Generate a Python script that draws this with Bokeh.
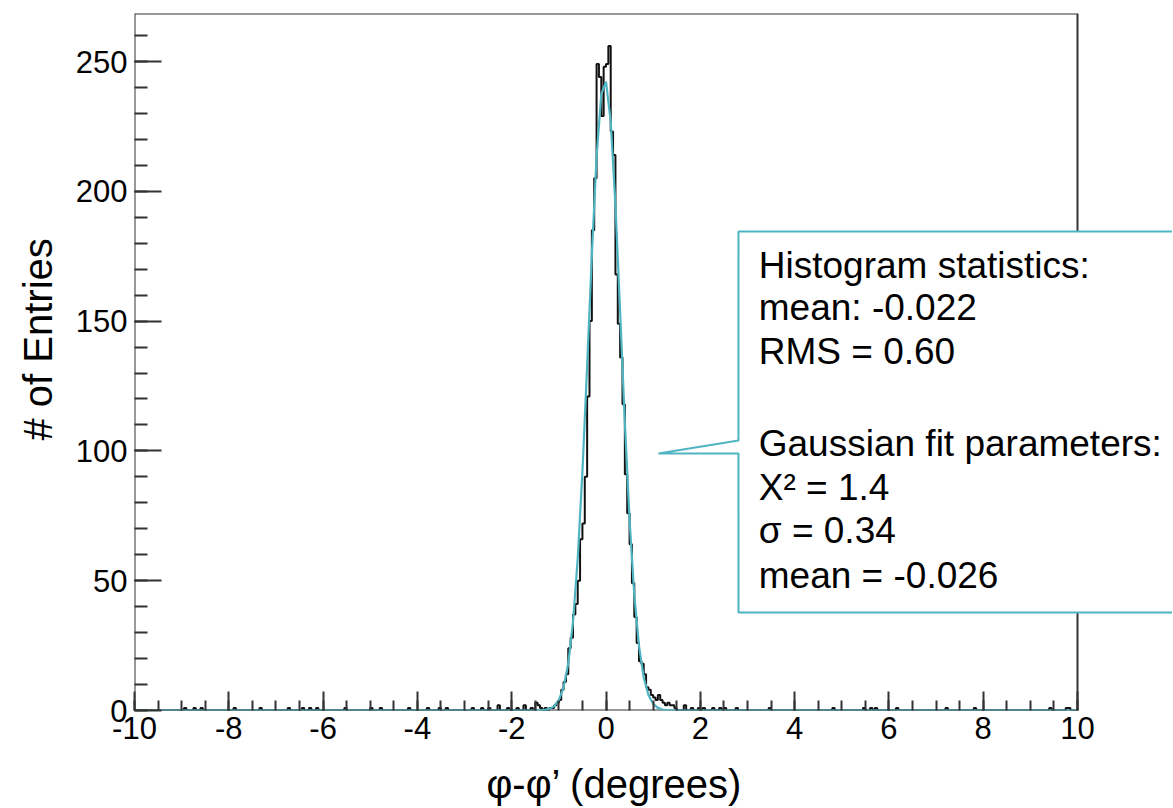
import numpy as np
from bokeh.plotting import figure
from bokeh.models import Range1d, FixedTicker, Label, BoxAnnotation, PolyAnnotation, Title
from bokeh.embed import file_html
from bokeh.resources import INLINE

# ---------------- data ----------------
BIN_WIDTH = 0.05
X_MIN, X_MAX = -10.0, 10.0

# contiguous bins around the peak, first bin starts at core_start
core_start = -1.50
core_counts = [3, 2, 1, 0, 1, 0, 1, 1, 2, 3,
               4, 8, 11, 14, 24, 28, 37, 41, 50, 66,
               72, 90, 121, 150, 185, 205, 249, 244, 229, 248,
               249, 256, 223, 214, 168, 149, 136, 118, 91, 76,
               64, 49, 36, 26, 19, 18, 14, 9, 8, 6,
               5, 4, 6, 4, 3, 2, 3, 2, 2, 1]

# scattered entries in the tails (bin lower edge, count)
tail_edges = [-8.95, -8.75, -8.60, -7.90, -7.35, -6.75, -6.45, -6.30, -6.15,
              -5.55, -5.00, -4.80, -4.20, -3.80, -3.55, -3.40, -2.85, -2.65,
              -2.50, -2.30, -2.10, -1.90, -1.75, -1.60,
              1.65, 1.80, 1.95, 2.05, 2.25, 2.40, 2.50, 2.75, 3.45, 4.80,
              5.45, 5.60, 5.70, 6.15, 7.20, 7.80, 9.40, 9.75, 9.80]
tail_counts = [1, 1, 1, 1, 1, 1, 1, 1, 1,
               1, 1, 1, 1, 1, 1, 1, 1, 1,
               1, 2, 1, 1, 2, 1,
               2, 1, 1, 1, 1, 1, 1, 1, 1, 1,
               1, 1, 1, 1, 1, 1, 1, 1, 1]

fit_x = [-10.0, -1.6, -1.5, -1.4, -1.3, -1.2, -1.1, -1.0, -0.9, -0.8, -0.7,
         -0.6, -0.5, -0.4, -0.3, -0.2, -0.1, 0.0, 0.1, 0.2, 0.3, 0.4, 0.5,
         0.6, 0.7, 0.8, 0.9, 1.0, 1.1, 1.2, 1.3, 1.4, 1.5, 1.6, 10.0]
fit_y = [0.0, 0.0, 0.02, 0.07, 0.22, 0.63, 1.65, 4.0, 8.9, 18.2, 34.1,
         58.4, 92.0, 132.7, 175.6, 213.2, 237.3, 242.3, 226.9, 194.8, 153.5,
         110.8, 73.4, 44.6, 24.9, 12.7, 5.95, 2.56, 1.0, 0.36, 0.12, 0.04,
         0.01, 0.0, 0.0]

x_ticks = [-10, -8, -6, -4, -2, 0, 2, 4, 6, 8, 10]
x_minor = [-10 + 0.5 * i for i in range(41)]
y_ticks = [0, 50, 100, 150, 200, 250]
y_minor = list(range(0, 270, 10))

stats_lines = ["Histogram statistics:", "mean: -0.022", "RMS = 0.60",
               "Gaussian fit parameters:", "X\u00b2 = 1.4", "\u03c3 = 0.34",
               "mean = -0.026"]
x_title = "\u03c6-\u03c6\u2019 (degrees)"
y_title = "# of Entries"

# ---------------- build histogram ----------------
nbins = int(round((X_MAX - X_MIN) / BIN_WIDTH))
counts = np.zeros(nbins)
i0 = int(round((core_start - X_MIN) / BIN_WIDTH))
for k, c in enumerate(core_counts):
    counts[i0 + k] = c
for e, c in zip(tail_edges, tail_counts):
    counts[int(round((e - X_MIN) / BIN_WIDTH))] = c
edges = X_MIN + BIN_WIDTH * np.arange(nbins + 1)
step_y = np.append(counts, counts[-1])

# ---------------- figure ----------------
W, H = 1172, 808
LEFT, TOP, BOTTOM_PX = 134, 13, 710
PX_PER_X = 47.15
Y_TOP = 268.5
X_END = 10 + (W - LEFT - 20 * PX_PER_X) / PX_PER_X
FONT = "Liberation Sans"
TEAL = "#4fb4c2"
AX = "#333333"

p = figure(width=W, height=H, x_range=Range1d(-10, X_END),
           y_range=Range1d(0, Y_TOP), output_backend="svg",
           toolbar_location=None, min_border_left=LEFT, min_border_right=0,
           min_border_top=TOP, min_border_bottom=H - BOTTOM_PX)
p.outline_line_color = None
p.grid.visible = False
p.background_fill_color = "white"
p.border_fill_color = "white"

neg_over = {t: str(t) for t in x_ticks if t < 0}

# x axis
xa = p.xaxis[0]
xa.ticker = FixedTicker(ticks=x_ticks, minor_ticks=x_minor)
xa.major_label_overrides = neg_over
xa.axis_line_color = None
xa.major_tick_in = 19
xa.major_tick_out = 0
xa.minor_tick_in = 10
xa.minor_tick_out = 0
xa.major_tick_line_color = AX
xa.minor_tick_line_color = AX
xa.major_tick_line_width = 2
xa.minor_tick_line_width = 2
xa.major_label_text_font = FONT
xa.major_label_text_font_size = "31px"
xa.major_label_text_color = "black"
xa.major_label_standoff = 6
# title centred on the extended frame; trailing no-break spaces shift it
# left so it sits centred under the -10..10 data area as in the reference
xa.axis_label = x_title + "\u00a0" * 7
xa.axis_label_text_font = FONT
xa.axis_label_text_font_size = "40px"
xa.axis_label_text_font_style = "normal"
xa.axis_label_text_color = "black"
xa.axis_label_standoff = 20

# y axis
ya = p.yaxis[0]
ya.ticker = FixedTicker(ticks=y_ticks, minor_ticks=y_minor)
ya.axis_line_color = None
ya.major_tick_in = 27
ya.major_tick_out = 0
ya.minor_tick_in = 13
ya.minor_tick_out = 0
ya.major_tick_line_color = AX
ya.minor_tick_line_color = AX
ya.major_tick_line_width = 2
ya.minor_tick_line_width = 2
ya.major_label_text_font = FONT
ya.major_label_text_font_size = "31px"
ya.major_label_text_color = "black"
ya.major_label_standoff = 7

p.add_layout(Title(text=y_title, align="left", offset=BOTTOM_PX - 440,
                   standoff=26,
                   text_font=FONT, text_font_size="40px",
                   text_font_style="normal", text_color="black"), "left")

# frame box from -10..10
p.add_layout(BoxAnnotation(left=-10, right=10, bottom=0, top=Y_TOP,
                           fill_color=None, line_color=AX, line_width=2,
                           line_alpha=1.0, level="underlay"))

# histogram + fit
p.step(edges, step_y, mode="after", line_color="#111111", line_width=2)
p.line(fit_x, fit_y, line_color=TEAL, line_width=2.2)

# callout box
bx0, by0, by1 = 2.81, 37.75, 184.5
tip_x, tip_y, join_y = 1.113, 99.0, 104.0
p.add_layout(PolyAnnotation(
    xs=[bx0, 14, 14, bx0, bx0, tip_x, bx0],
    ys=[by1, by1, by0, by0, tip_y, tip_y, join_y],
    fill_color="white", fill_alpha=1.0, line_color=TEAL, line_alpha=1.0,
    line_width=2))

line_y = [171.4, 155.2, 138.3, 102.9, 85.9, 69.3, 52.0]
for t, yy in zip(stats_lines, line_y):
    p.add_layout(Label(x=3.24, y=yy, text=t, text_font=FONT,
                       text_font_size="37px", text_color="black",
                       text_align="left", text_baseline="middle"))

open("out.html", "w").write(file_html(p, INLINE))
